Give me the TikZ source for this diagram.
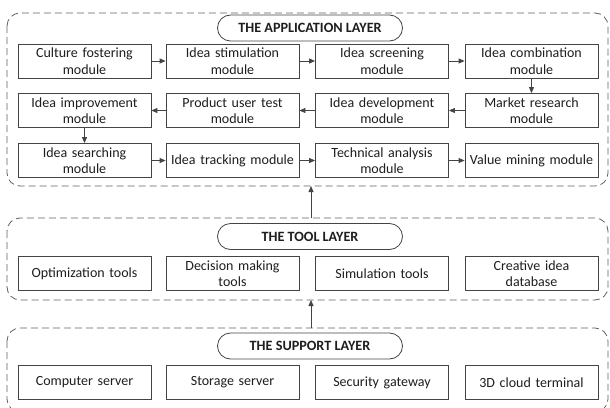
\documentclass[tikz,border=0pt]{standalone}
\usepackage{fontspec}
\setmainfont{Carlito}
\usetikzlibrary{arrows.meta,shapes.misc}
\definecolor{edge}{HTML}{444444}
\definecolor{ink}{HTML}{1E1E1E}
\begin{document}
\begin{tikzpicture}[x=1pt,y=-1pt,
  font=\fontsize{14}{16.5}\selectfont, text=ink,
  layer/.style={draw=edge!85, dashed, dash pattern=on 7pt off 4pt, line width=0.8pt, rounded corners=13pt},
  pill/.style={draw=edge, line width=0.8pt, rounded rectangle, fill=white,
    minimum width=185pt, minimum height=26pt, inner sep=0pt, font=\fontsize{14.2}{16}\selectfont\bfseries},
  mod/.style={draw=edge, line width=0.8pt, fill=white, minimum width=133pt, minimum height=34pt,
    inner sep=1pt, align=center, text width=131pt},
  link/.style={draw=edge, line width=0.8pt, -{Triangle[length=6pt,width=5pt]}}]
\useasboundingbox (0,0) rectangle (610,407);

% layer frames
\draw[layer] (7,13) rectangle (608,186);
\draw[layer] (7,218) rectangle (608,300);
\draw[layer] (7,328) rectangle (608,412);

% layer titles
\node[pill] (app) at (310,28) {THE APPLICATION LAYER};
\node[pill] (tool) at (310,236.5) {THE TOOL LAYER};
\node[pill] (sup) at (310,346) {THE SUPPORT LAYER};

% application modules
\node[mod] (a1) at (84.5,61) {Culture fostering\\module};
\node[mod] (a2) at (232.5,61) {Idea stimulation\\module};
\node[mod] (a3) at (382,61) {Idea screening\\module};
\node[mod] (a4) at (531.5,61) {Idea combination\\module};
\node[mod] (b1) at (84.5,110.5) {Idea improvement\\module};
\node[mod] (b2) at (232.5,110.5) {Product user test\\module};
\node[mod] (b3) at (382,110.5) {Idea development\\module};
\node[mod] (b4) at (531.5,110.5) {Market research\\module};
\node[mod] (c1) at (84.5,160.5) {Idea searching\\module};
\node[mod] (c2) at (232.5,160.5) {Idea tracking module};
\node[mod] (c3) at (382,160.5) {Technical analysis\\module};
\node[mod] (c4) at (531.5,160.5) {Value mining module};

% tool modules
\node[mod] (t1) at (84.5,273.5) {Optimization tools};
\node[mod] (t2) at (232.5,273.5) {Decision making\\tools};
\node[mod] (t3) at (382,273.5) {Simulation tools};
\node[mod] (t4) at (531.5,273.5) {Creative idea\\database};

% support modules
\node[mod] (s1) at (84.5,382.5) {Computer server};
\node[mod] (s2) at (232.5,382.5) {Storage server};
\node[mod] (s3) at (382,382.5) {Security gateway};
\node[mod] (s4) at (531.5,382.5) {3D cloud terminal};

% module flow
\draw[link] (a1) -- (a2);
\draw[link] (a2) -- (a3);
\draw[link] (a3) -- (a4);
\draw[link] (a4) -- (b4);
\draw[link] (b4) -- (b3);
\draw[link] (b3) -- (b2);
\draw[link] (b2) -- (b1);
\draw[link] (b1) -- (c1);
\draw[link] (c1) -- (c2);
\draw[link] (c2) -- (c3);
\draw[link] (c3) -- (c4);

% between layers
\coordinate (appbot) at (311,186);
\coordinate (tooltop) at (311,218);
\coordinate (toolbot) at (311,300);
\coordinate (suptop) at (311,328);
\draw[link] (tooltop) -- (appbot);
\draw[link] (suptop) -- (toolbot);
\end{tikzpicture}
\end{document}
